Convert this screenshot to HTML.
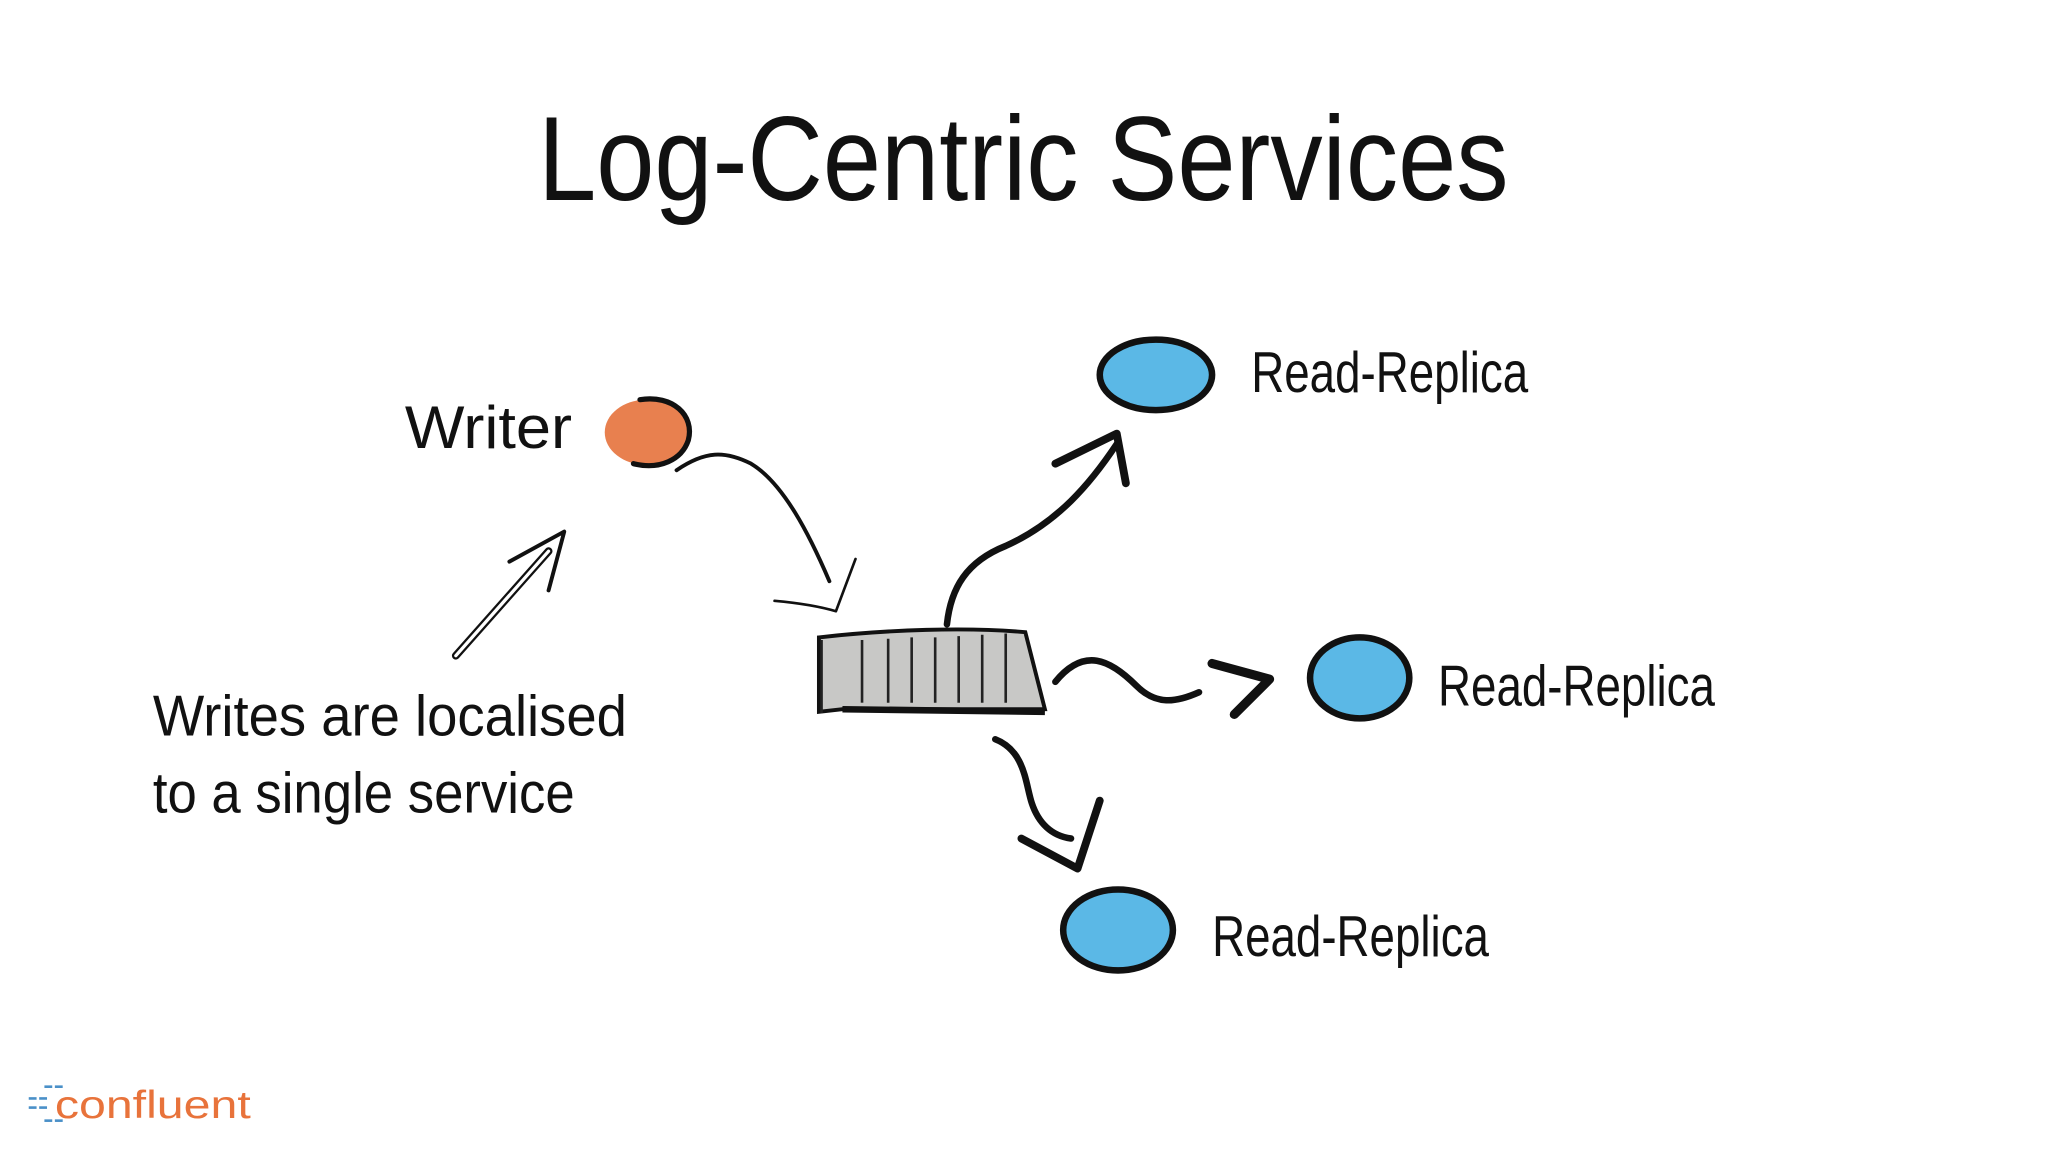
<!DOCTYPE html>
<html><head><style>
html,body{margin:0;padding:0;background:#fff;}
svg{display:block;}
text{font-family:"Liberation Sans",sans-serif;fill:#111;}
</style></head><body>
<svg width="2048" height="1152" viewBox="0 0 1568 882" xmlns="http://www.w3.org/2000/svg">
<rect width="1568" height="882" fill="#fff"/>
<text x="412" y="153" font-size="92" textLength="743" lengthAdjust="spacingAndGlyphs">Log-Centric Services</text>
<text x="310" y="343" font-size="46" textLength="128" lengthAdjust="spacingAndGlyphs">Writer</text>
<text x="958" y="300" font-size="44" textLength="212" lengthAdjust="spacingAndGlyphs">Read-Replica</text>
<text x="1101" y="540" font-size="44" textLength="212" lengthAdjust="spacingAndGlyphs">Read-Replica</text>
<text x="928" y="732" font-size="44" textLength="212" lengthAdjust="spacingAndGlyphs">Read-Replica</text>
<text x="117" y="563" font-size="44" textLength="363" lengthAdjust="spacingAndGlyphs">Writes are localised</text>
<text x="117" y="622" font-size="44" textLength="323" lengthAdjust="spacingAndGlyphs">to a single service</text>
<ellipse cx="495" cy="331" rx="32" ry="25" fill="#e8804f"/>
<path d="M490 306 C515 302 532 318 527 337 C522 352 505 360 485 355" fill="none" stroke="#111" stroke-width="4" stroke-linecap="round"/>
<ellipse cx="885" cy="287" rx="43" ry="27" fill="#5bb8e6" stroke="#111" stroke-width="5"/>
<ellipse cx="1041" cy="519" rx="38" ry="31" fill="#5bb8e6" stroke="#111" stroke-width="5"/>
<ellipse cx="856" cy="712" rx="42" ry="31" fill="#5bb8e6" stroke="#111" stroke-width="5"/>
<path d="M627 488 C680 482 740 480 785 484 L800 543 L645 543 L627 545 Z" fill="#c8c8c6" stroke="#111" stroke-width="3"/>
<path d="M645 543 L800 545" stroke="#111" stroke-width="5" fill="none"/>
<g stroke="#222" stroke-width="2">
<line x1="660" y1="490" x2="660" y2="538"/><line x1="680" y1="489" x2="680" y2="538"/><line x1="698" y1="488" x2="698" y2="538"/><line x1="716" y1="488" x2="716" y2="538"/><line x1="734" y1="487" x2="734" y2="538"/><line x1="752" y1="486" x2="752" y2="538"/><line x1="770" y1="485" x2="770" y2="538"/>
<line x1="629" y1="490" x2="629" y2="546"/>
</g>
<g fill="none" stroke="#111" stroke-linecap="round" stroke-linejoin="round">
<path d="M518 360 C540 345 555 345 575 355 C600 370 620 410 635 445" stroke-width="3"/>
<path d="M593 460 C615 462 630 465 640 468 L655 428" stroke-width="2"/>
<path d="M725 478 C728 450 740 430 770 418 C810 400 835 370 855 340" stroke-width="5"/>
<path d="M808 355 L855 332 L862 370" stroke-width="6"/>
<path d="M808 522 C830 495 850 505 870 525 C885 540 900 538 918 530" stroke-width="5"/>
<path d="M928 508 L972 520 L945 547" stroke-width="7"/>
<path d="M762 566 C785 575 785 600 790 615 C795 630 805 640 820 642" stroke-width="5"/>
<path d="M782 642 L825 665 L842 613" stroke-width="6"/>
<path d="M349 502 L420 422" stroke-width="6"/>
<path d="M349 502 L420 422" stroke="#fff" stroke-width="2.5"/>
<path d="M390 430 L432 407 L420 452" stroke-width="3"/>
</g>
<g fill="#4a90c8"><rect x="34" y="831" width="6" height="2"/><rect x="42" y="831" width="6" height="2"/><rect x="22" y="840" width="6" height="2"/><rect x="30" y="840" width="6" height="2"/><rect x="22" y="847" width="6" height="2"/><rect x="30" y="847" width="6" height="2"/><rect x="34" y="857" width="6" height="2"/><rect x="42" y="857" width="6" height="2"/></g>
<text x="42" y="856" font-size="30" style="fill:#e8733b" textLength="150" lengthAdjust="spacingAndGlyphs">confluent</text>
</svg>
</body></html>
